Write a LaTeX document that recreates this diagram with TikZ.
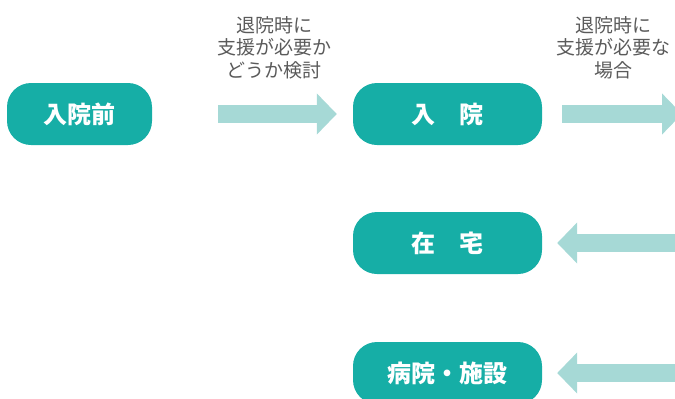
\documentclass[tikz,border=0pt]{standalone}
\usepackage{fontspec}
\setmainfont{Noto Sans CJK JP}
\usepackage{tikz}
\usetikzlibrary{arrows.meta, positioning, calc}
\definecolor{stepteal}{RGB}{22, 174, 166}
\definecolor{flowmint}{RGB}{166, 217, 214}
\definecolor{notegray}{RGB}{90, 90, 90}

\begin{document}
\begin{tikzpicture}[x=1pt, y=-1pt,
    stagebox/.style={fill=stepteal, draw=none, rounded corners=24pt,
      minimum height=62pt, inner sep=0pt, text=white,
      font=\fontsize{24}{24}\selectfont\bfseries},
    flowarrow/.style={draw=flowmint, line width=18pt,
      -{Triangle[length=20pt, width=40pt]}},
    note/.style={align=center, text=notegray, inner sep=0pt,
      font=\fontsize{19}{22.5}\selectfont}]
    \clip (0,0) rectangle (675,399);

    % stages
    \node[stagebox, minimum width=145pt] (pre) at (79.5,114) {入院前};
    \node[stagebox, minimum width=189pt] (stay) at (447.5,114) {入　院};
    \node[stagebox, minimum width=189pt] (home) at (447.5,243) {在　宅};
    \node[stagebox, minimum width=189pt] (care) at (447.5,373) {病院・施設};

    % free ends on the right
    \coordinate (outR) at (682,114);
    \coordinate (inA) at (700,243);
    \coordinate (inB) at (700,373);

    % flow
    \draw[flowarrow, shorten <=66pt, shorten >=16pt] (pre) -- (stay);
    \draw[flowarrow, shorten <=20pt] (stay) -- (outR);
    \draw[flowarrow, shorten >=15pt] (inA) -- (home);
    \draw[flowarrow, shorten >=15pt] (inB) -- (care);

    \node[note] (askA) at (274,47.5) {退院時に\\支援が必要か\\どうか検討};
    \node[note] (askB) at (613,47.5) {退院時に\\支援が必要な\\場合};
\end{tikzpicture}
\end{document}
